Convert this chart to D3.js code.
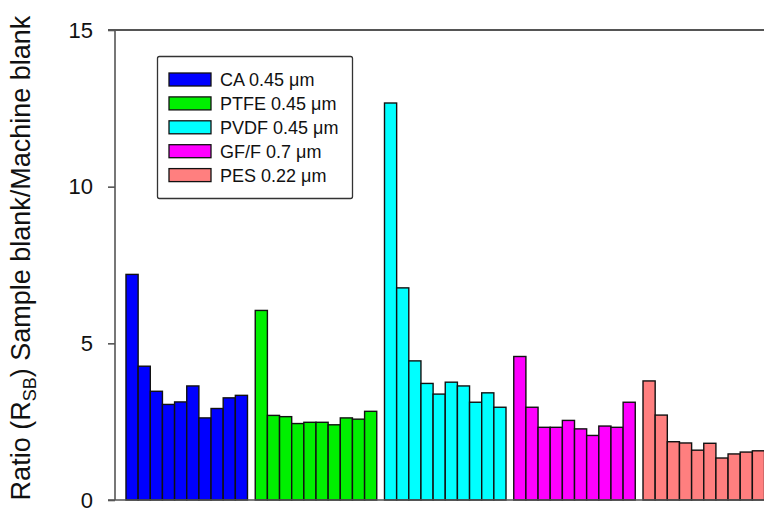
<!DOCTYPE html>
<html>
<head>
<meta charset="utf-8">
<script src="https://cdn.jsdelivr.net/npm/d3@7"></script>
<style>
  body { margin: 0; background: #fff; overflow: hidden; }
  svg { display: block; font-family: "Liberation Sans", Arial, sans-serif; }
</style>
</head>
<body>
<script>
// Filter types shown in the legend
var filters = ["CA 0.45 \u03bcm", "PTFE 0.45 \u03bcm", "PVDF 0.45 \u03bcm", "GF/F 0.7 \u03bcm", "PES 0.22 \u03bcm"];
var colors = ["#0000ff", "#00f000", "#00ffff", "#ff00ff", "#ff7f7f"];

// Ratio values, 10 samples per filter
var caValues   = [7.20, 4.27, 3.47, 3.05, 3.13, 3.64, 2.62, 2.92, 3.26, 3.34];
var ptfeValues = [6.05, 2.70, 2.66, 2.44, 2.48, 2.48, 2.40, 2.62, 2.58, 2.83];
var pvdfValues = [12.67, 6.77, 4.44, 3.72, 3.38, 3.76, 3.64, 3.12, 3.42, 2.96];
var gffValues  = [4.58, 2.96, 2.32, 2.32, 2.54, 2.27, 2.06, 2.36, 2.32, 3.12];
var pesValues  = [3.80, 2.71, 1.86, 1.82, 1.59, 1.81, 1.34, 1.47, 1.53, 1.57];

var yTicks = [0, 5, 10, 15];

var series = [caValues, ptfeValues, pvdfValues, gffValues, pesValues];

var width = 764, height = 510;
var axisX = 115, plotTop = 30, plotBottom = 500;

var svg = d3.select("body").append("svg")
    .attr("width", width)
    .attr("height", height);

var y = d3.scaleLinear().domain([0, 15]).range([plotBottom, plotTop]);

// group band scale, then sample band scale inside a group
var x0 = d3.scaleBand()
    .domain(d3.range(filters.length))
    .range([axisX, axisX + 660.5])
    .paddingInner(0.06)
    .paddingOuter(0.085);

var x1 = d3.scaleBand()
    .domain(d3.range(10))
    .range([0, x0.bandwidth()]);

// bars
var groups = svg.selectAll("g.group")
    .data(series)
    .enter().append("g")
    .attr("class", "group")
    .attr("transform", function(d, i) { return "translate(" + x0(i) + ",0)"; });

groups.selectAll("rect")
    .data(function(d, i) { return d.map(function(v) { return {v: v, c: colors[i]}; }); })
    .enter().append("rect")
    .attr("x", function(d, j) { return x1(j); })
    .attr("y", function(d) { return y(d.v); })
    .attr("width", x1.bandwidth())
    .attr("height", function(d) { return plotBottom - y(d.v); })
    .attr("fill", function(d) { return d.c; })
    .attr("stroke", "#111")
    .attr("stroke-width", 1.4);

// frame lines: left axis, top and bottom
svg.append("line")
    .attr("x1", axisX).attr("x2", axisX)
    .attr("y1", plotTop).attr("y2", plotBottom)
    .attr("stroke", "#555").attr("stroke-width", 1.6);
svg.append("line")
    .attr("x1", axisX - 7).attr("x2", width)
    .attr("y1", plotTop).attr("y2", plotTop)
    .attr("stroke", "#555").attr("stroke-width", 2);
svg.append("line")
    .attr("x1", axisX - 7).attr("x2", width)
    .attr("y1", plotBottom).attr("y2", plotBottom)
    .attr("stroke", "#555").attr("stroke-width", 1.6);

// y axis ticks and labels
var yAxis = svg.append("g")
    .attr("transform", "translate(" + axisX + ",0)")
    .call(d3.axisLeft(y).tickValues(yTicks).tickSize(7).tickPadding(15));
yAxis.select(".domain").remove();
yAxis.selectAll(".tick line").attr("stroke", "#555").attr("stroke-width", 1.6);
yAxis.selectAll(".tick text")
    .attr("fill", "#111")
    .style("font-size", "22px")
    .style("font-family", "'Liberation Sans', Arial, sans-serif");

// y axis title
var title = svg.append("text")
    .attr("transform", "translate(30,258) rotate(-90)")
    .attr("text-anchor", "middle")
    .attr("fill", "#111")
    .style("font-size", "27px");
title.append("tspan").text("Ratio (R");
title.append("tspan").attr("dy", 6).style("font-size", "18px").text("SB");
title.append("tspan").attr("dy", -6).text(") Sample blank/Machine blank");

// legend
var legend = svg.append("g");
legend.append("rect")
    .attr("x", 157.5).attr("y", 56.5)
    .attr("width", 195).attr("height", 142)
    .attr("rx", 2)
    .attr("fill", "#fff")
    .attr("stroke", "#333")
    .attr("stroke-width", 1.3);

var rows = legend.selectAll("g.row")
    .data(filters)
    .enter().append("g")
    .attr("class", "row")
    .attr("transform", function(d, i) { return "translate(169," + (79.5 + i * 23.9) + ")"; });

rows.append("rect")
    .attr("x", 0).attr("y", -6.5)
    .attr("width", 42).attr("height", 13)
    .attr("fill", function(d, i) { return colors[i]; })
    .attr("stroke", "#111")
    .attr("stroke-width", 1.3);

rows.append("text")
    .attr("x", 51).attr("y", 6.5)
    .attr("fill", "#111")
    .style("font-size", "18px")
    .text(function(d) { return d; });
</script>
</body>
</html>
